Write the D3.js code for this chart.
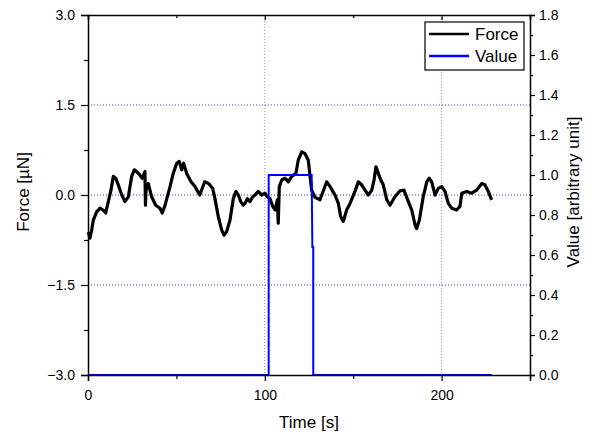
<!DOCTYPE html>
<html><head><meta charset="utf-8">
<script src="https://cdn.jsdelivr.net/npm/d3@7"></script>
<style>
body{margin:0;background:#fff;}
svg{display:block;font-family:"Liberation Sans",Arial,sans-serif;}
</style></head>
<body>
<svg id="c" width="592" height="437"></svg>
<script>
// ---- data ----
const forceTime = [0.2,1.1,2.1,3.0,4.9,6.8,8.5,10.0,11.5,13.0,14.3,15.7,17.1,19.1,20.9,22.8,24.7,26.2,27.5,29.4,30.7,32.2,32.5,32.8,34.1,36.0,38.3,40.7,42.0,43.6,46.4,48.2,50.2,51.6,53.0,54.1,55.8,58.3,60.5,63.2,66.0,68.3,70.5,71.8,73.7,75.6,76.9,78.4,80.3,82.2,83.7,85.0,86.4,87.8,88.8,90.1,91.6,93.2,94.5,96.3,98.2,100.1,101.4,102.9,104.5,105.8,107.1,107.6,108.2,109.6,111.4,113.3,115.2,117.6,118.9,120.9,122.7,124.6,125.6,126.5,128.4,131.2,135.0,136.9,139.7,141.6,142.9,144.4,146.3,148.2,151.0,152.9,154.8,156.7,158.5,160.5,161.8,162.9,164.2,165.6,167.0,169.0,170.8,173.6,176.5,178.7,181.2,183.1,185.0,185.9,187.4,189.6,191.6,193.0,194.4,196.3,198.1,200.1,201.9,203.8,205.7,208.5,210.4,211.4,214.2,217.0,219.8,222.7,224.5,226.4,228.3];
const forceValues = [-0.62,-0.72,-0.58,-0.42,-0.28,-0.22,-0.25,-0.30,-0.11,0.08,0.31,0.28,0.17,0.0,-0.11,-0.03,0.31,0.42,0.39,0.33,0.28,0.39,-0.17,0.08,0.19,-0.03,-0.17,-0.22,-0.30,-0.17,0.14,0.36,0.53,0.56,0.42,0.53,0.36,0.22,0.14,0.0,0.22,0.19,0.11,-0.06,-0.36,-0.58,-0.67,-0.61,-0.42,-0.06,0.06,0.0,-0.11,-0.17,-0.14,-0.06,-0.11,-0.03,0.0,0.06,0.0,0.03,-0.03,-0.06,-0.19,-0.25,-0.08,-0.47,0.14,0.25,0.28,0.22,0.31,0.36,0.58,0.72,0.69,0.58,0.31,0.08,-0.04,-0.08,0.22,0.14,0.0,-0.14,-0.36,-0.44,-0.25,-0.14,0.06,0.22,0.17,0.08,0.0,0.08,0.25,0.47,0.36,0.25,0.17,-0.08,-0.17,-0.03,0.07,0.08,-0.11,-0.25,-0.5,-0.56,-0.42,-0.03,0.22,0.28,0.22,0.0,0.11,0.14,0.06,-0.14,-0.22,-0.25,-0.19,0.03,0.06,0.03,0.08,0.19,0.17,0.06,-0.08];
const valueTime = [0,102.2,102.2,126.5,126.9,127.4,127.4,228.3];
const valueValues = [0,0,1,1,0.64,0.64,0,0];
const xTicks = [0,100,200];
const xMinor = [50,150,250];
const yLeftTicks = [-3,-1.5,0,1.5,3];
const yLeftMinor = [-2.25,-0.75,0.75,2.25];
const yRightTicks = [0,0.2,0.4,0.6,0.8,1.0,1.2,1.4,1.6,1.8];
const yRightMinor = [0.1,0.3,0.5,0.7,0.9,1.1,1.3,1.5,1.7];
const seriesNames = ["Force","Value"];
const seriesColors = ["#000000","#0000ff"];

// ---- layout ----
const L=88,R=530,T=15,B=375;
const svg=d3.select("#c");
const x=d3.scaleLinear().domain([0,250]).range([L,R]);
const yL=d3.scaleLinear().domain([-3,3]).range([B,T]);
const yR=d3.scaleLinear().domain([0,1.8]).range([B,T]);
const gridColor="#3b3bf0";

// grid
const g=svg.append("g");
g.selectAll("line.hg").data([-1.5,0,1.5]).join("line")
 .attr("x1",L).attr("x2",R).attr("y1",d=>yL(d)).attr("y2",d=>yL(d))
 .attr("stroke",gridColor).attr("stroke-width",1).attr("stroke-dasharray","1,2");
g.selectAll("line.vg").data([100,200]).join("line")
 .attr("x1",d=>x(d)).attr("x2",d=>x(d)).attr("y1",T).attr("y2",B)
 .attr("stroke",gridColor).attr("stroke-width",1).attr("stroke-dasharray","1,2").attr("opacity",0.6);

// data lines
const forcePts=forceTime.map((t,i)=>[t,forceValues[i]]);
const valuePts=valueTime.map((t,i)=>[t,valueValues[i]]);
svg.append("path").datum(forcePts)
 .attr("d",d3.line().x(d=>x(d[0])).y(d=>yL(d[1])))
 .attr("fill","none").attr("stroke",seriesColors[0]).attr("stroke-width",3.2).attr("stroke-linejoin","round");
svg.append("path").datum(valuePts)
 .attr("d",d3.line().x(d=>x(d[0])).y(d=>yR(d[1])))
 .attr("fill","none").attr("stroke",seriesColors[1]).attr("stroke-width",2);

// axes
function styleAxis(sel,fs){
  sel.select(".domain").attr("stroke","#000").attr("stroke-width",1.5);
  sel.selectAll(".tick line").attr("stroke","#000").attr("stroke-width",1.2);
  sel.selectAll("text").attr("font-size",fs).attr("fill","#000").attr("font-family","Liberation Sans, Arial, sans-serif");
}
const fs=14;
let a=svg.append("g").attr("transform",`translate(0,${B})`)
 .call(d3.axisBottom(x).tickValues(xTicks).tickSize(6).tickPadding(9).tickFormat(d3.format("d")));
styleAxis(a,fs);
a=svg.append("g").attr("transform",`translate(0,${B})`)
 .call(d3.axisBottom(x).tickValues(xMinor).tickSize(4).tickFormat(""));
styleAxis(a,fs); a.select(".domain").remove();
a=svg.append("g").attr("transform",`translate(0,${T})`)
 .call(d3.axisTop(x).tickValues(xTicks).tickSize(-5).tickFormat(""));
styleAxis(a,fs);
a=svg.append("g").attr("transform",`translate(0,${T})`)
 .call(d3.axisTop(x).tickValues(xMinor).tickSize(-3).tickFormat(""));
styleAxis(a,fs); a.select(".domain").remove();
a=svg.append("g").attr("transform",`translate(${L},0)`)
 .call(d3.axisLeft(yL).tickValues(yLeftTicks).tickSize(7).tickPadding(6).tickFormat(d3.format(".1f")));
styleAxis(a,fs);
a=svg.append("g").attr("transform",`translate(${L},0)`)
 .call(d3.axisLeft(yL).tickValues(yLeftMinor).tickSize(4).tickFormat(""));
styleAxis(a,fs); a.select(".domain").remove();
a=svg.append("g").attr("transform",`translate(${R},0)`)
 .call(d3.axisRight(yR).tickValues(yRightTicks).tickSize(5).tickPadding(4).tickFormat(d3.format(".1f")));
styleAxis(a,fs);
a=svg.append("g").attr("transform",`translate(${R},0)`)
 .call(d3.axisRight(yR).tickValues(yRightMinor).tickSize(3).tickFormat(""));
styleAxis(a,fs); a.select(".domain").remove();

// titles
const tfs=17;
svg.append("text").attr("x",309).attr("y",428).attr("text-anchor","middle").attr("font-size",tfs).text("Time [s]");
svg.append("text").attr("transform",`translate(29,192) rotate(-90)`).attr("text-anchor","middle").attr("font-size",tfs).text("Force [µN]");
svg.append("text").attr("transform",`translate(579,192) rotate(-90)`).attr("text-anchor","middle").attr("font-size",tfs).text("Value [arbitrary unit]");

// legend
const lg=svg.append("g");
lg.append("rect").attr("x",425).attr("y",22).attr("width",99).attr("height",48)
 .attr("fill","#fff").attr("stroke","#000").attr("stroke-width",1.2);
seriesNames.forEach((n,i)=>{
  const yy=34+i*22;
  lg.append("line").attr("x1",429).attr("x2",469).attr("y1",yy).attr("y2",yy)
    .attr("stroke",seriesColors[i]).attr("stroke-width",2.5);
  lg.append("text").attr("x",475).attr("y",yy+6).attr("font-size",17).text(n);
});
</script>
</body></html>
